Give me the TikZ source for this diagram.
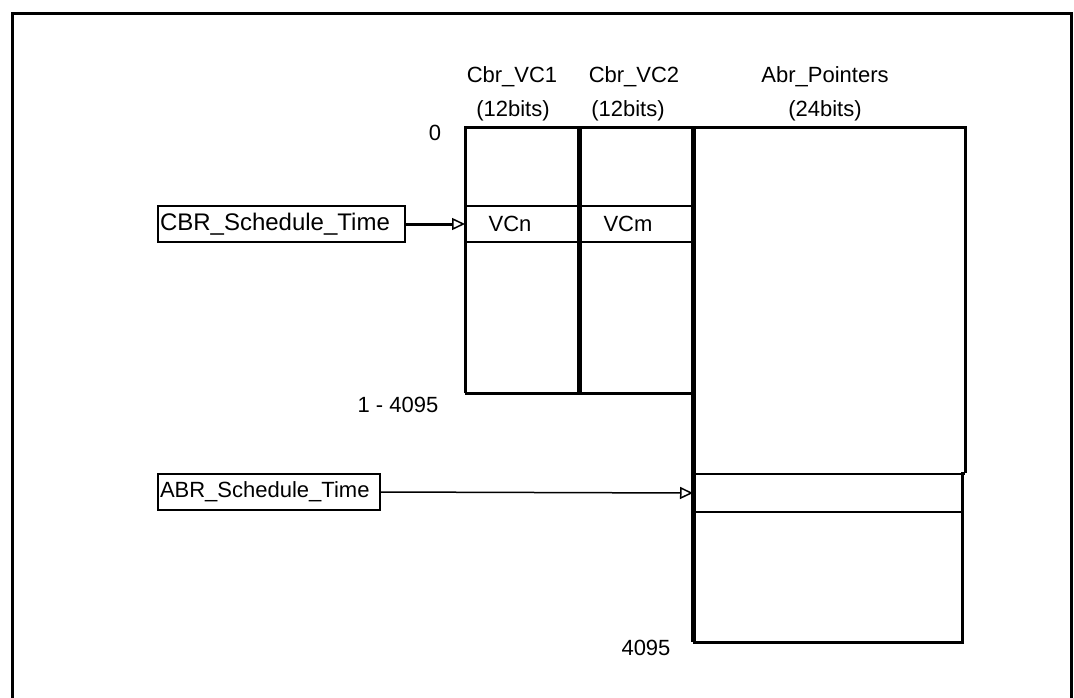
\documentclass[tikz,border=0pt]{standalone}
\usepackage{fontspec}
\setmainfont{Liberation Sans}
\usetikzlibrary{arrows.meta}
\tikzset{
  txt/.style={font=\fontsize{22}{26}\selectfont, inner sep=0pt},
  srcbox/.style={draw, line width=2pt, font=\fontsize{22}{26}\selectfont,
    inner xsep=2pt, inner ysep=0pt, anchor=north west, align=left, minimum height=36pt},
  cell/.style={draw, line width=2pt, inner sep=0pt, anchor=north west},
  frame/.style={line width=3pt},
  tbl/.style={line width=3pt},
  sep/.style={line width=5pt},
  ptr/.style={-{Triangle[open, length=13pt 0, width=12pt 0, line width=1.5pt]}},
}
\begin{document}
\begin{tikzpicture}[x=1pt,y=-1pt]
\useasboundingbox (0,0) rectangle (1074,697);
% outer frame (open at the bottom)
\draw[frame] (12,700) -- (12,13) -- (1071,13) -- (1071,700);

% headers
\node[txt] (h1) at (512,77) {Cbr\_VC1};
\node[txt] (h2) at (634,77) {Cbr\_VC2};
\node[txt] (h3) at (825,77) {Abr\_Pointers};
\node[txt] (b1) at (513,111) {(12bits)};
\node[txt] (b2) at (628,111) {(12bits)};
\node[txt] (b3) at (825,111) {(24bits)};
\node[txt] (z0) at (435,133) {0};
\node[txt] (l1) at (398,405) {1 - 4095};
\node[txt] (l2) at (646,648) {4095};

% CBR table
\draw[tbl] (465,393) -- (465,127) -- (965,127) -- (965,473);
\draw[tbl] (465,393) -- (693,393);
\node[cell, minimum width=114pt, minimum height=36pt] (vcn) at (465,205) {};
\node[cell, minimum width=114pt, minimum height=36pt] (vcm) at (579,205) {};
\node[txt] at (510,224) {VCn};
\node[txt] at (628,224) {VCm};
\draw[sep] (579,127) -- (579,393);
\draw[sep] (693,127) -- (693,642);

% ABR lower part
\node[cell, minimum width=269pt, minimum height=38pt] (slot) at (693,473) {};
\draw[tbl] (693,642) -- (962,642) -- (962,473) -- (965,473);

% schedule boxes
\node[srcbox, font=\fontsize{24}{28}\selectfont, text width=243pt] (cbr) at (157,205) {CBR\_Schedule\_Time};
\node[srcbox, text width=218pt] (abr) at (157,473) {ABR\_Schedule\_Time};

\draw[ptr, line width=3pt] (cbr.east) -- (vcn.west);
\draw[ptr, line width=1.5pt] (abr.east) -- (slot.west);
\end{tikzpicture}
\end{document}
